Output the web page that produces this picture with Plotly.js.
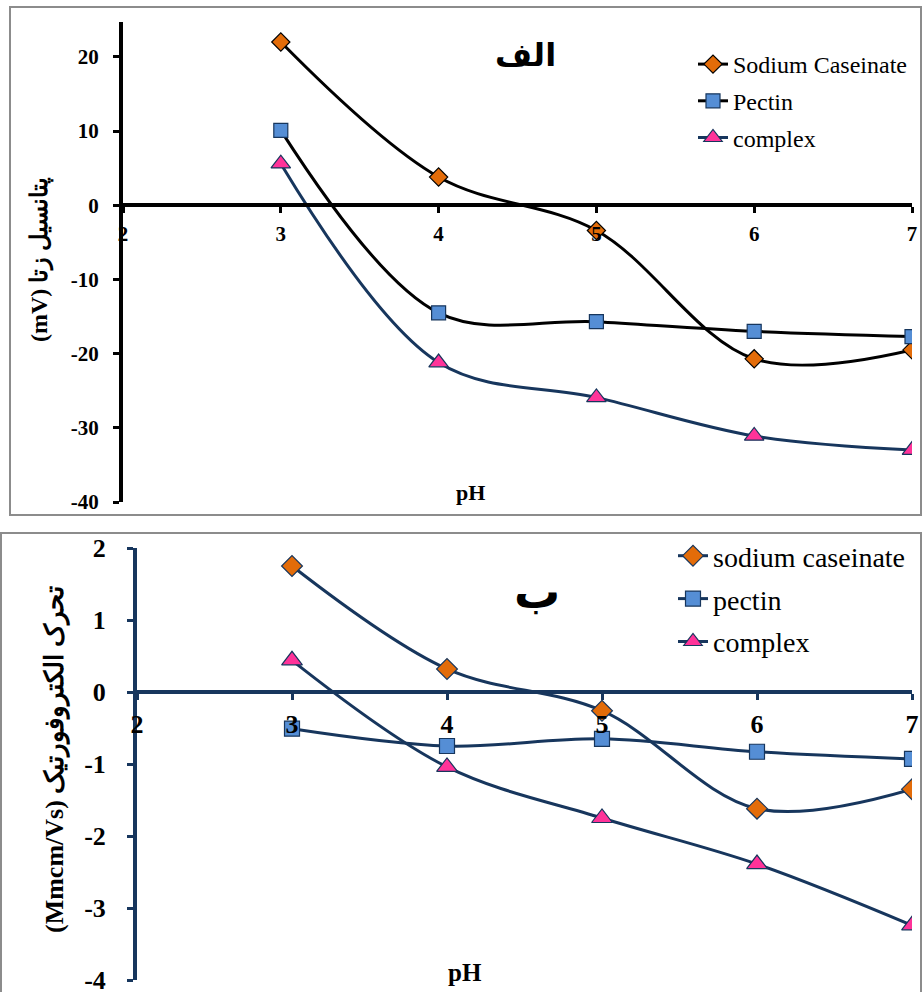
<!DOCTYPE html>
<html>
<head>
<meta charset="utf-8">
<script src="https://cdn.plot.ly/plotly-3.0.1.min.js"></script>
<style>html,body{margin:0;padding:0;background:#fff;}#chart{width:922px;height:992px;}</style>
</head>
<body>
<div id="chart"></div>
<script>
// ---- data ----
const pH = [3, 4, 5, 6, 7];
const xTickVals = [2, 3, 4, 5, 6, 7];
// Panel A: zeta potential (mV)
const zetaCaseinate = [22.0, 3.8, -3.4, -20.7, -19.5];
const zetaPectin = [10.1, -14.5, -15.7, -17.0, -17.7];
const zetaComplex = [5.6, -21.2, -25.9, -31.1, -33.0];
const zetaTickVals = [-40, -30, -20, -10, 0, 10, 20];
// Panel B: electrophoretic mobility
const mobCaseinate = [1.75, 0.32, -0.26, -1.62, -1.35];
const mobPectin = [-0.51, -0.75, -0.65, -0.83, -0.93];
const mobComplex = [0.44, -1.04, -1.75, -2.39, -3.24];
const mobTickVals = [-4, -3, -2, -1, 0, 1, 2];
const namesA = ['Sodium Caseinate', 'Pectin', 'complex'];
const namesB = ['sodium caseinate', 'pectin', 'complex'];

// ---- helpers ----
const W = 922, H = 992;
const px = x => x / W;
const py = y => 1 - y / H;
const NAVY = '#17365D';
const ORANGE = '#E36C09';
const BLUE = '#558ED5';
const PINK = '#FF3399';
const SERIF = '"Liberation Serif", "Times New Roman", Times, serif';

function tr(x, y, name, lineColor, sym, fill, outline, xa, ya, leg, grp, size) {
  return {
    x: x, y: y, name: name, type: 'scatter', mode: 'lines+markers',
    xaxis: xa, yaxis: ya, legend: leg, legendgroup: grp,
    line: {color: lineColor, width: 3, shape: 'spline', smoothing: 1},
    marker: {symbol: sym, size: size, color: fill, line: {color: outline, width: 1.2}},
    hoverinfo: 'skip'
  };
}

const data = [
  tr(pH, zetaCaseinate, namesA[0], '#000000', 'diamond', ORANGE, '#000000', 'x', 'y', 'legend', 'a1', 14),
  tr(pH, zetaPectin, namesA[1], '#000000', 'square', BLUE, NAVY, 'x', 'y', 'legend', 'a2', 14),
  tr(pH, zetaComplex, namesA[2], NAVY, 'triangle-up', PINK, NAVY, 'x', 'y', 'legend', 'a3', 17),
  tr(pH, mobCaseinate, namesB[0], NAVY, 'diamond', ORANGE, NAVY, 'x2', 'y2', 'legend2', 'b1', 16),
  tr(pH, mobPectin, namesB[1], NAVY, 'square', BLUE, NAVY, 'x2', 'y2', 'legend2', 'b2', 15),
  tr(pH, mobComplex, namesB[2], NAVY, 'triangle-up', PINK, NAVY, 'x2', 'y2', 'legend2', 'b3', 18)
];

const tickFontA = {family: SERIF, size: 21, color: '#000', weight: 'bold'};
const tickFontB = {family: SERIF, size: 26, color: '#000', weight: 'bold'};

const layout = {
  width: W, height: H,
  margin: {l: 0, r: 0, t: 0, b: 0},
  paper_bgcolor: '#fff', plot_bgcolor: 'rgba(0,0,0,0)',
  font: {family: SERIF},
  showlegend: true,
  xaxis: {
    domain: [px(123), px(912)], range: [2, 7], anchor: 'free', position: py(205),
    tickvals: xTickVals, ticktext: xTickVals.map(String),
    showline: true, linecolor: '#000', linewidth: 4,
    ticks: 'outside', ticklen: 6, tickwidth: 3, tickcolor: '#000',
    showgrid: false, zeroline: false, tickfont: tickFontA, ticklabelstandoff: 3,
    ticklabeloverflow: 'allow'
  },
  yaxis: {
    domain: [py(502), py(22)], range: [-40, 24.7], anchor: 'x',
    tickvals: zetaTickVals, ticktext: zetaTickVals.map(String),
    showline: true, linecolor: '#000', linewidth: 4,
    ticks: 'outside', ticklen: 6, tickwidth: 3, tickcolor: '#000',
    showgrid: false, zeroline: false, tickfont: tickFontA, ticklabelstandoff: 10,
    ticklabeloverflow: 'allow'
  },
  xaxis2: {
    domain: [px(137), px(912)], range: [2, 7], anchor: 'free', position: py(692),
    tickvals: xTickVals, ticktext: xTickVals.map(String),
    showline: true, linecolor: NAVY, linewidth: 4,
    ticks: 'outside', ticklen: 6, tickwidth: 3, tickcolor: NAVY,
    showgrid: false, zeroline: false, tickfont: tickFontB, ticklabelstandoff: 2,
    ticklabeloverflow: 'allow'
  },
  yaxis2: {
    domain: [py(980), py(548)], range: [-4, 2], anchor: 'x2',
    tickvals: mobTickVals, ticktext: mobTickVals.map(String),
    showline: true, linecolor: NAVY, linewidth: 4,
    ticks: 'outside', ticklen: 6, tickwidth: 3, tickcolor: NAVY,
    showgrid: false, zeroline: false, tickfont: tickFontB, ticklabelstandoff: 16,
    ticklabeloverflow: 'allow'
  },
  legend: {
    x: px(693), y: py(42), xanchor: 'left', yanchor: 'top',
    bgcolor: 'rgba(0,0,0,0)', borderwidth: 0,
    font: {family: SERIF, size: 24, color: '#000'},
    traceorder: 'grouped', tracegroupgap: 2.5
  },
  legend2: {
    x: px(673), y: py(531), xanchor: 'left', yanchor: 'top',
    bgcolor: 'rgba(0,0,0,0)', borderwidth: 0,
    font: {family: SERIF, size: 28, color: '#000'},
    traceorder: 'grouped', tracegroupgap: 3.5
  },
  shapes: [
    {type: 'rect', xref: 'paper', yref: 'paper', x0: px(10), x1: px(921), y0: py(515), y1: py(7),
     line: {color: '#8c8c8c', width: 2}, fillcolor: 'rgba(0,0,0,0)', layer: 'below'},
    {type: 'rect', xref: 'paper', yref: 'paper', x0: px(1), x1: px(921), y0: py(1000), y1: py(533),
     line: {color: '#8c8c8c', width: 2}, fillcolor: 'rgba(0,0,0,0)', layer: 'below'}
  ],
  annotations: [
    {text: 'الف', xref: 'paper', yref: 'paper', x: px(525), y: py(55), showarrow: false,
     xanchor: 'center', yanchor: 'middle', font: {family: 'DejaVu Sans', size: 32, color: '#000', weight: 'bold'}},
    {text: 'ب', xref: 'paper', yref: 'paper', x: px(537), y: py(592), showarrow: false,
     xanchor: 'center', yanchor: 'middle', font: {family: 'DejaVu Sans', size: 46, color: '#000', weight: 'bold'}},
    {text: 'pH', xref: 'paper', yref: 'paper', x: px(470), y: py(492), showarrow: false,
     xanchor: 'center', yanchor: 'middle', font: {family: SERIF, size: 22, color: '#000', weight: 'bold'}},
    {text: 'pH', xref: 'paper', yref: 'paper', x: px(465), y: py(972), showarrow: false,
     xanchor: 'center', yanchor: 'middle', font: {family: SERIF, size: 25, color: '#000', weight: 'bold'}},
    {text: '\u202Bپتانسیل زتا (mV)\u202C', xref: 'paper', yref: 'paper', x: px(40), y: py(260), showarrow: false,
     textangle: -90, xanchor: 'center', yanchor: 'middle', font: {family: SERIF, size: 24, color: '#000', weight: 'bold'}},
    {text: '\u202Bتحرک الکتروفورتیک (Mmcm/Vs)\u202C', xref: 'paper', yref: 'paper', x: px(55), y: py(760), showarrow: false,
     textangle: -90, xanchor: 'center', yanchor: 'middle', font: {family: SERIF, size: 26, color: '#000', weight: 'bold'}}
  ]
};

Plotly.newPlot('chart', data, layout, {displayModeBar: false, staticPlot: true});
</script>
</body>
</html>
